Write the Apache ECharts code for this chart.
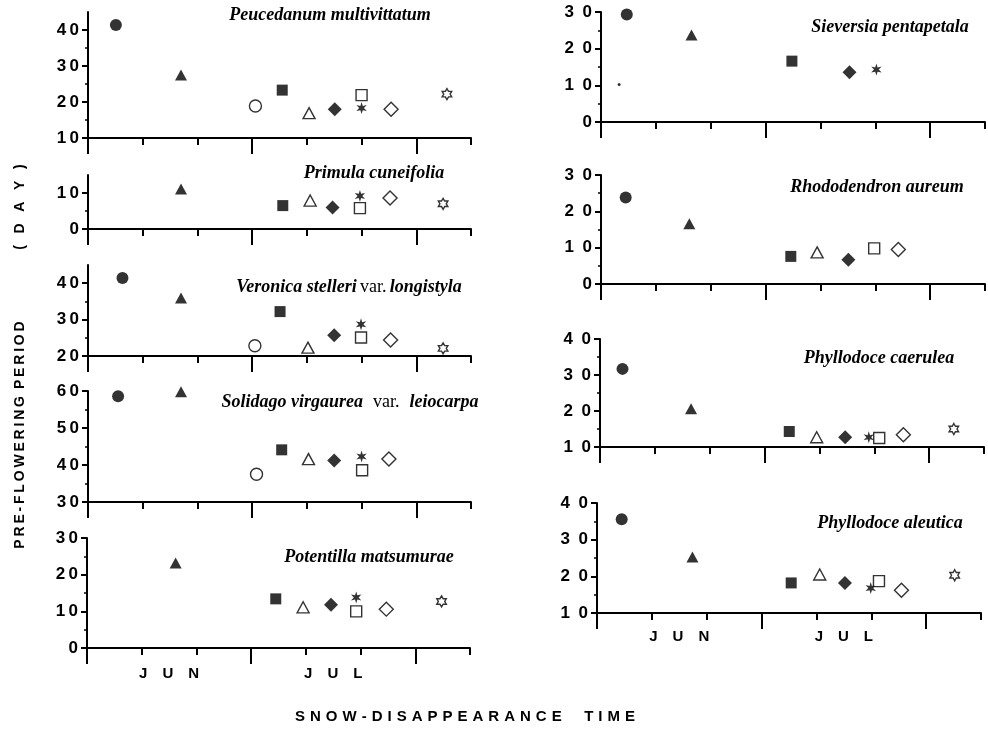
<!DOCTYPE html>
<html><head><meta charset="utf-8">
<script src="https://cdn.jsdelivr.net/npm/echarts@6/dist/echarts.min.js"></script>
<style>html,body{margin:0;padding:0;background:#fff}#c{width:988px;height:740px}</style>
</head><body><div id="c"></div>
<script>
// ---- data ----
// x: snow-disappearance time in 10-day periods from 1 June (0 = Jun 1, 3 = Jul 1, 6 = Aug 1)
// symbols (sites): filled circle, filled triangle, open circle, filled square, open triangle,
// filled diamond, asterisk, open square, open diamond, open star, small dot
const symbolKeys = ['fCircle','fTri','oCircle','fSquare','oTri','fDiamond','asterisk','oSquare','oDiamond','oStar','dot'];

const speciesNames = [
  '{i|Peucedanum multivittatum}',
  '{i|Primula cuneifolia}',
  '{i|Veronica stelleri} {n|var.} {i|longistyla}',
  '{i|Solidago virgaurea}   {n|var.}   {i|leiocarpa}',
  '{i|Potentilla matsumurae}',
  '{i|Sieversia pentapetala}',
  '{i|Rhododendron aureum}',
  '{i|Phyllodoce caerulea}',
  '{i|Phyllodoce aleutica}'
];

const peucedanumX = [0.51,1.70,3.06,3.55,4.04,4.51,5.00,5.00,5.54,6.56,null];
const peucedanumY = [41.4,27.5,18.9,23.3,16.9,18.0,18.3,21.9,18.0,22.2,null];
const primulaX    = [null,1.70,null,3.56,4.06,4.47,4.97,4.97,5.52,6.49,null];
const primulaY    = [null,11.1,null,6.5,7.9,6.0,9.2,5.8,8.6,7.0,null];
const veronicaX   = [0.63,1.70,3.05,3.51,4.02,4.50,4.99,4.99,5.53,6.49,null];
const veronicaY   = [41.4,35.9,22.8,32.2,22.3,25.7,28.7,25.1,24.4,22.1,null];
const solidagoX   = [0.55,1.70,3.08,3.54,4.03,4.50,5.00,5.01,5.50,null,null];
const solidagoY   = [58.6,59.8,37.5,44.1,41.6,41.2,42.3,38.6,41.6,null,null];
const potentillaX = [null,1.62,null,3.45,3.95,4.46,4.92,4.92,5.47,6.48,null];
const potentillaY = [null,23.2,null,13.4,11.1,11.8,13.8,10.0,10.6,12.7,null];
const sieversiaX  = [0.47,1.65,null,3.48,null,4.53,5.02,null,null,null,0.33];
const sieversiaY  = [29.3,23.7,null,16.6,null,13.6,14.3,null,null,null,10.2];
const rhodoX      = [0.45,1.61,null,3.46,3.94,4.51,null,4.98,5.42,null,null];
const rhodoY      = [23.8,16.6,null,7.6,8.7,6.7,null,9.8,9.5,null,null];
const caeruleaX   = [0.41,1.66,null,3.45,3.95,4.47,4.90,5.09,5.53,6.45,null];
const caeruleaY   = [31.7,20.6,null,14.3,12.7,12.7,12.7,12.5,13.4,15.0,null];
const aleuticaX   = [0.45,1.74,null,3.54,4.06,4.52,4.99,5.14,5.55,6.52,null];
const aleuticaY   = [35.6,25.3,null,18.2,20.5,18.2,16.8,18.7,16.2,20.3,null];

const yTicks10_45 = [10,20,30,40];   const yMinor10_45 = [15,25,35];
const yTicks0_15  = [0,10];          const yMinor0_15  = [5];
const yTicks20_45 = [20,30,40];      const yMinor20_45 = [25,35];
const yTicks30_60 = [30,40,50,60];   const yMinor30_60 = [35,45,55];
const yTicks0_30  = [0,10,20,30];    const yMinor0_30  = [5,15,25];
const yTicks10_40 = [10,20,30,40];   const yMinor10_40 = [15,25,35];

const xPeriodTicks = [1,2,4,5,7];
const xMonthTicks = [0,3,6];
const monthPos = [1.5,4.5];
const monthNames = ['J\u2003U\u2003N','J\u2003U\u2003L'];

// ---- layout ----
const panels = [
  {x:peucedanumX, y:peucedanumY, min:10, max:45, t:yTicks10_45, m:yMinor10_45, box:[88,12,383,126], title:[330,15], sep:'\u2009'},
  {x:primulaX,    y:primulaY,    min:0,  max:15, t:yTicks0_15,  m:yMinor0_15,  box:[88,175,383,54], title:[374,173], sep:'\u2009'},
  {x:veronicaX,   y:veronicaY,   min:20, max:45, t:yTicks20_45, m:yMinor20_45, box:[88,265,383,91], title:[349,287], sep:'\u2009'},
  {x:solidagoX,   y:solidagoY,   min:30, max:60, t:yTicks30_60, m:yMinor30_60, box:[88,391,383,111], title:[350,402], sep:'\u2009'},
  {x:potentillaX, y:potentillaY, min:0,  max:30, t:yTicks0_30,  m:yMinor0_30,  box:[87,538,383,110], title:[369,557], sep:'\u2009', month:18},
  {x:sieversiaX,  y:sieversiaY,  min:0,  max:30, t:yTicks0_30,  m:yMinor0_30,  box:[601,12,384,110], title:[890,27], sep:'\u2002'},
  {x:rhodoX,      y:rhodoY,      min:0,  max:30, t:yTicks0_30,  m:yMinor0_30,  box:[601,175,384,109], title:[877,187], sep:'\u2002'},
  {x:caeruleaX,   y:caeruleaY,   min:10, max:40, t:yTicks10_40, m:yMinor10_40, box:[600,339,384,108], title:[879,358], sep:'\u2002'},
  {x:aleuticaX,   y:aleuticaY,   min:10, max:40, t:yTicks10_40, m:yMinor10_40, box:[597,503,384,110], title:[890,523], sep:'\u2002', month:16}
];

const ASTER = 'path://M10,0 L12,6.54 L18.66,5 L14,10 L18.66,15 L12,13.46 L10,20 L8,13.46 L1.34,15 L6,10 L1.34,5 L8,6.54 Z';
const HEX = 'path://M10,0 L12.89,5 L18.66,5 L15.77,10 L18.66,15 L12.89,15 L10,20 L7.11,15 L1.34,15 L4.23,10 L1.34,5 L7.11,5 Z';
const INK = '#000';
const symStyle = {
  fCircle:{symbol:'circle', size:12, fill:true},
  fTri:{symbol:'triangle', size:[12,11], fill:true},
  oCircle:{symbol:'circle', size:12, fill:false},
  fSquare:{symbol:'rect', size:11, fill:true},
  oTri:{symbol:'triangle', size:[12,11], fill:false},
  fDiamond:{symbol:'diamond', size:14, fill:true},
  asterisk:{symbol:ASTER, size:12, fill:true},
  oSquare:{symbol:'rect', size:11, fill:false},
  oDiamond:{symbol:'diamond', size:14, fill:false},
  oStar:{symbol:HEX, size:11, fill:false},
  dot:{symbol:'circle', size:3, fill:true}
};
const SANS = '"Liberation Sans", Arial, sans-serif';
const SERIF = '"Liberation Serif", "Times New Roman", serif';

const grids=[], xAxes=[], yAxes=[], series=[], graphics=[];
panels.forEach((p,i)=>{
  grids.push({left:p.box[0], top:p.box[1], width:p.box[2], height:p.box[3]});
  xAxes.push({type:'value', gridIndex:i, min:0, max:7, position:'bottom',
    axisLine:{show:true, onZero:false, lineStyle:{color:'#000', width:2}},
    axisTick:{show:true, customValues:xPeriodTicks, length:7, lineStyle:{color:'#000', width:2}},
    axisLabel:{show:!!p.month, customValues:monthPos, margin:p.month||8,
      formatter:(v)=> v < 3 ? monthNames[0] : monthNames[1],
      color:'#000', fontSize:15, fontWeight:'bold', fontFamily:SANS},
    splitLine:{show:false}});
  xAxes.push({type:'value', gridIndex:i, min:0, max:7, position:'bottom',
    axisLine:{show:false, onZero:false},
    axisTick:{show:true, customValues:xMonthTicks, length:16, lineStyle:{color:'#000', width:2}},
    axisLabel:{show:false}, splitLine:{show:false}});
  yAxes.push({type:'value', gridIndex:i, min:p.min, max:p.max, position:'left',
    axisLine:{show:true, onZero:false, lineStyle:{color:'#000', width:2}},
    axisTick:{show:true, customValues:p.t, length:6, lineStyle:{color:'#000', width:2}},
    axisLabel:{show:true, customValues:p.t, margin:9, color:'#000', fontSize:17, fontWeight:'bold', fontFamily:SANS,
      formatter:(v)=> String(v).split('').join(p.sep)},
    splitLine:{show:false}});
  yAxes.push({type:'value', gridIndex:i, min:p.min, max:p.max, position:'left', offset:0,
    axisLine:{show:false, onZero:false},
    axisTick:{show:true, customValues:p.m, length:3, lineStyle:{color:'#000', width:1.5}},
    axisLabel:{show:false}, splitLine:{show:false}});
  symbolKeys.forEach((k,j)=>{
    if (p.x[j] == null || p.y[j] == null) return;
    const s = symStyle[k];
    series.push({type:'scatter', xAxisIndex:2*i, yAxisIndex:2*i, silent:true,
      symbol:s.symbol, symbolSize:s.size, symbolKeepAspect:true,
      itemStyle: s.fill ? {color:INK, borderWidth:0} : {color:'#fff', borderColor:INK, borderWidth:1.4},
      data:[[p.x[j], p.y[j]]], z:3});
  });
  graphics.push({type:'text', x:p.title[0], y:p.title[1], z:10,
    style:{text:speciesNames[i], textAlign:'center', textVerticalAlign:'middle',
      rich:{i:{fontFamily:SERIF, fontStyle:'italic', fontWeight:'bold', fontSize:18, fill:'#000'},
            n:{fontFamily:SERIF, fontStyle:'normal', fontWeight:'normal', fontSize:18, fill:'#000'}}}});
});

function spaced(str, sep){ return str.split('').join(sep); }
graphics.push({type:'text', x:20, y:435, rotation:Math.PI/2,
  style:{text:spaced('PRE-FLOWERING','\u2009')+'\u2002'+spaced('PERIOD','\u2009'), textAlign:'center', textVerticalAlign:'middle',
    font:'bold 14px '+SANS, fill:'#000'}});
graphics.push({type:'text', x:20, y:207, rotation:Math.PI/2,
  style:{text:'(\u2002\u2004D\u2002\u2004A\u2002\u2004Y\u2002\u2004)', textAlign:'center', textVerticalAlign:'middle',
    font:'bold 14px '+SANS, fill:'#000'}});
graphics.push({type:'text', x:465, y:717,
  style:{text:spaced('SNOW-DISAPPEARANCE','\u2005\u200A')+'\u2003\u2002'+spaced('TIME','\u2005\u200A'), textAlign:'center', textVerticalAlign:'middle',
    font:'bold 15px '+SANS, fill:'#000'}});

const chart = echarts.init(document.getElementById('c'), null, {renderer:'canvas'});
chart.setOption({animation:false, backgroundColor:'#fff',
  grid:grids, xAxis:xAxes, yAxis:yAxes, series:series, graphic:graphics});
</script></body></html>
